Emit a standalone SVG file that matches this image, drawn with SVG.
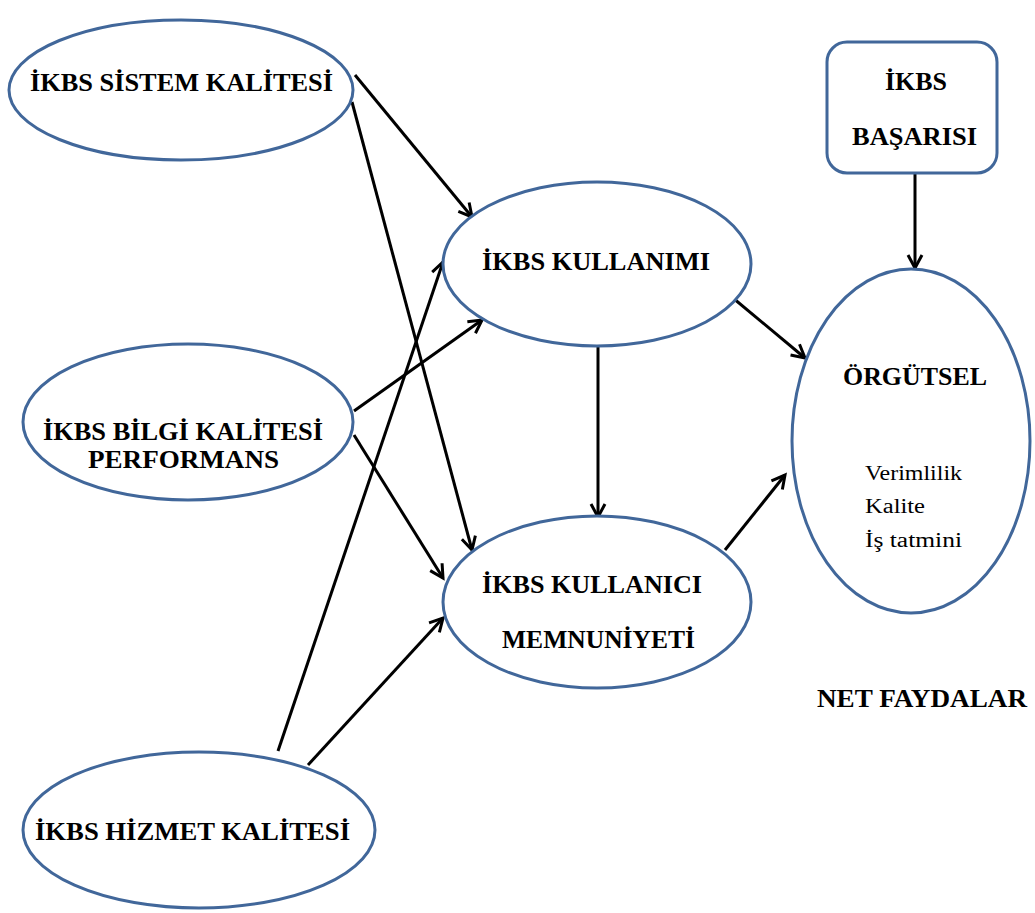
<svg xmlns="http://www.w3.org/2000/svg" width="1035" height="913" viewBox="0 0 1035 913">
  <style>
    .shape { fill: #ffffff; stroke: #41679a; stroke-width: 3; }
    .lbl { font-family: "Liberation Serif", "Times New Roman", serif; font-weight: bold; font-size: 25px; fill: #000000; }
    .sub { font-family: "Liberation Serif", "Times New Roman", serif; font-size: 20px; fill: #000000; }
    .edge { stroke: #000000; stroke-width: 3; fill: none; marker-end: url(#arrow); }
  </style>
  <defs>
    <marker id="arrow" markerUnits="userSpaceOnUse" markerWidth="20" markerHeight="20" refX="16" refY="10" orient="auto">
      <path d="M3,3 L16,10 L3,17" fill="none" stroke="#000000" stroke-width="3" stroke-linejoin="miter"/>
    </marker>
  </defs>
  <rect width="1035" height="913" fill="#ffffff"/>

  <!-- connectors -->
  <g id="connectors">
    <line class="edge" x1="355" y1="75" x2="472" y2="217"/>
    <line class="edge" x1="352" y1="102" x2="472" y2="550"/>
    <line class="edge" x1="354" y1="411" x2="482" y2="320"/>
    <line class="edge" x1="354" y1="435" x2="443" y2="578"/>
    <line class="edge" x1="278" y1="751" x2="443" y2="262"/>
    <line class="edge" x1="308" y1="765" x2="443" y2="618"/>
    <line class="edge" x1="598" y1="346" x2="598" y2="517"/>
    <line class="edge" x1="733" y1="298" x2="805" y2="358"/>
    <line class="edge" x1="725" y1="550" x2="785" y2="475"/>
    <line class="edge" x1="915" y1="174" x2="915" y2="268"/>
  </g>

  <g id="sistem-kalitesi">
    <ellipse class="shape" cx="181" cy="90" rx="172" ry="70"/>
    <text class="lbl" x="30" y="91" textLength="303" lengthAdjust="spacingAndGlyphs">İKBS SİSTEM  KALİTESİ</text>
  </g>

  <g id="bilgi-kalitesi">
    <ellipse class="shape" cx="188" cy="422" rx="165" ry="78"/>
    <text class="lbl" x="43" y="440" textLength="280" lengthAdjust="spacingAndGlyphs">İKBS BİLGİ KALİTESİ</text>
    <text class="lbl" x="88" y="468" textLength="191" lengthAdjust="spacingAndGlyphs">PERFORMANS</text>
  </g>

  <g id="hizmet-kalitesi">
    <ellipse class="shape" cx="199" cy="830" rx="176" ry="78"/>
    <text class="lbl" x="35" y="840" textLength="315" lengthAdjust="spacingAndGlyphs">İKBS HİZMET  KALİTESİ</text>
  </g>

  <g id="kullanimi">
    <ellipse class="shape" cx="597" cy="264" rx="154" ry="82"/>
    <text class="lbl" x="482" y="270" textLength="228" lengthAdjust="spacingAndGlyphs">İKBS KULLANIMI</text>
  </g>

  <g id="memnuniyeti">
    <ellipse class="shape" cx="597" cy="602" rx="154" ry="86"/>
    <text class="lbl" x="482" y="593" textLength="220" lengthAdjust="spacingAndGlyphs">İKBS KULLANICI</text>
    <text class="lbl" x="502" y="648" textLength="193" lengthAdjust="spacingAndGlyphs">MEMNUNİYETİ</text>
  </g>

  <g id="basarisi">
    <rect class="shape" x="827" y="42" width="170" height="131" rx="20" ry="20"/>
    <text class="lbl" x="885" y="90" textLength="62" lengthAdjust="spacingAndGlyphs">İKBS</text>
    <text class="lbl" x="852" y="145" textLength="125" lengthAdjust="spacingAndGlyphs">BAŞARISI</text>
  </g>

  <g id="orgutsel">
    <ellipse class="shape" cx="911" cy="441" rx="119" ry="172"/>
    <text class="lbl" x="843" y="385" textLength="144" lengthAdjust="spacingAndGlyphs">ÖRGÜTSEL</text>
    <text class="sub" x="865" y="480" textLength="97" lengthAdjust="spacingAndGlyphs">Verimlilik</text>
    <text class="sub" x="865" y="513" textLength="60" lengthAdjust="spacingAndGlyphs">Kalite</text>
    <text class="sub" x="865" y="547" textLength="97" lengthAdjust="spacingAndGlyphs">İş tatmini</text>
  </g>

  <g id="net-faydalar">
    <text class="lbl" x="817" y="707" textLength="210" lengthAdjust="spacingAndGlyphs">NET FAYDALAR</text>
  </g>
</svg>
